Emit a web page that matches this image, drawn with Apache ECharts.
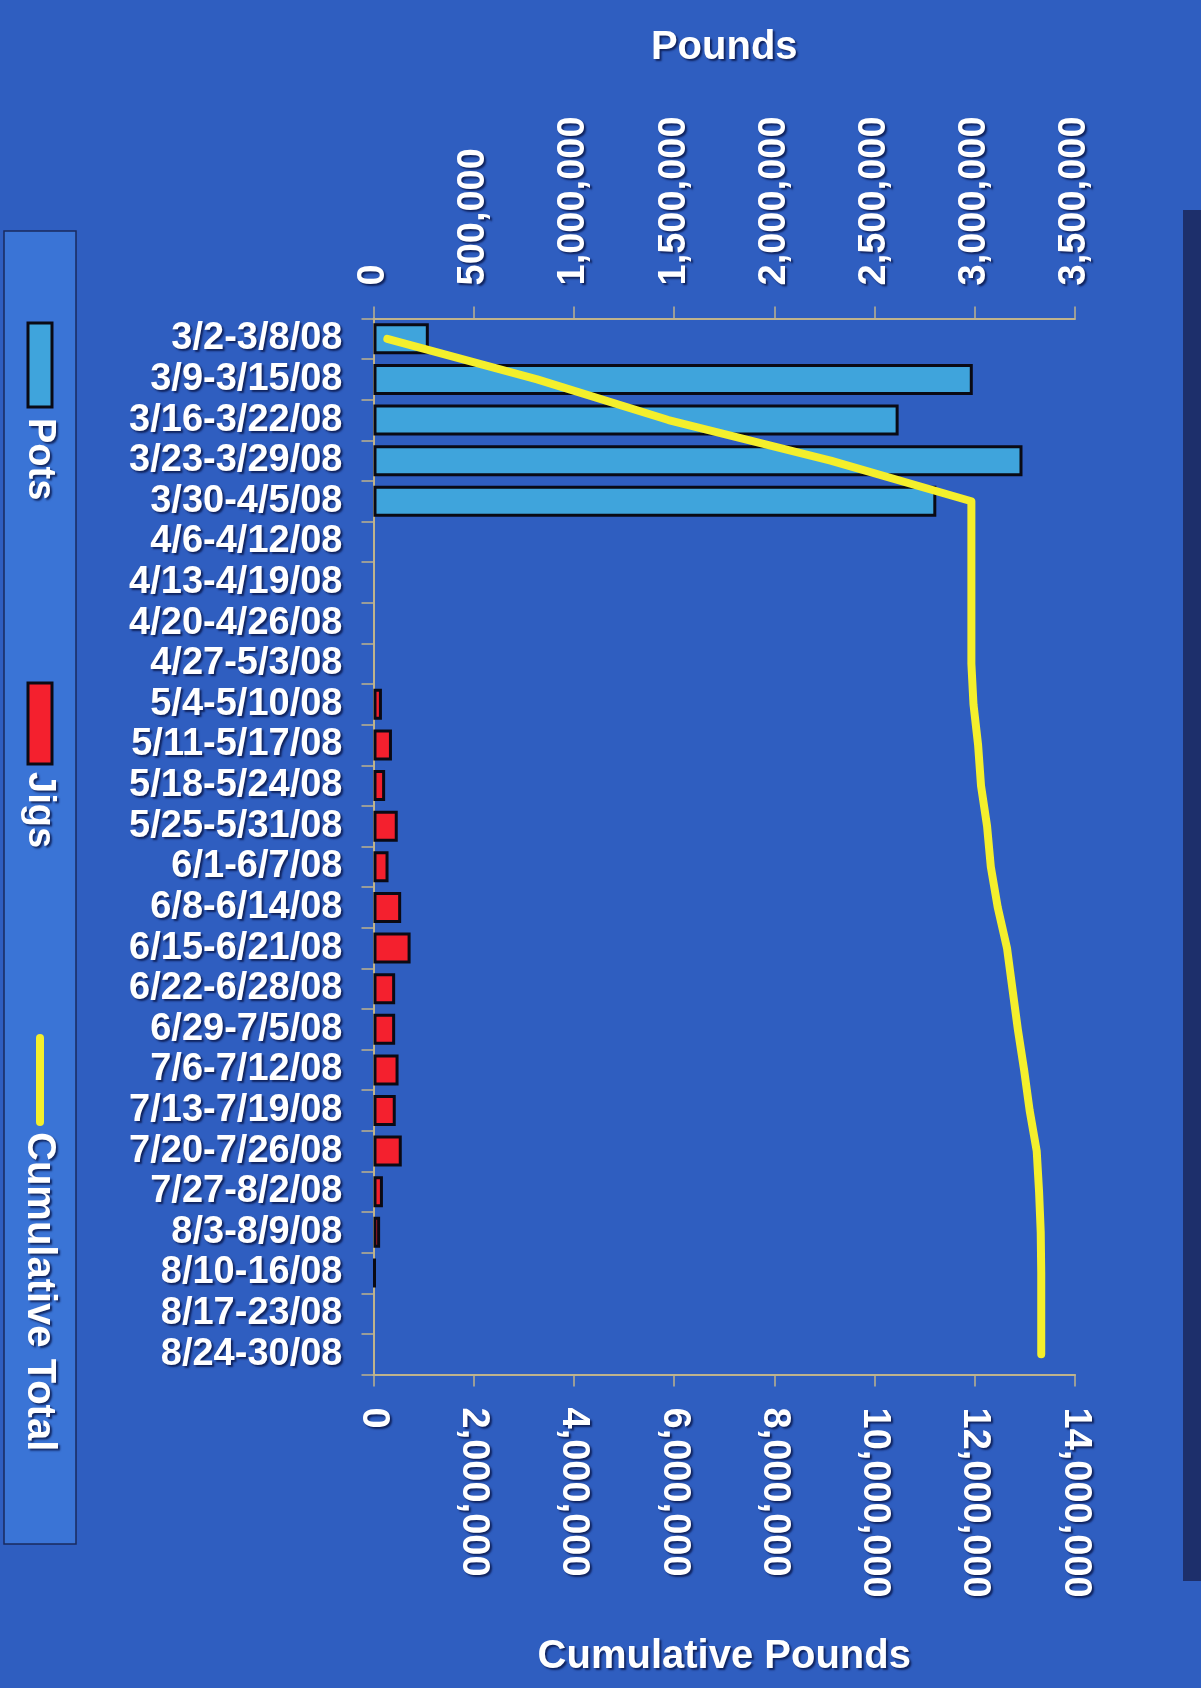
<!DOCTYPE html>
<html>
<head>
<meta charset="utf-8">
<script src="https://cdn.jsdelivr.net/npm/echarts@6/dist/echarts.min.js"></script>
<style>
  html, body { margin: 0; padding: 0; background: #2f5ec0; }
  #chart { width: 1201px; height: 1688px; }
</style>
</head>
<body>
<div id="chart"></div>
<script>
const categories = [
  '3/2-3/8/08', '3/9-3/15/08', '3/16-3/22/08', '3/23-3/29/08', '3/30-4/5/08',
  '4/6-4/12/08', '4/13-4/19/08', '4/20-4/26/08', '4/27-5/3/08', '5/4-5/10/08',
  '5/11-5/17/08', '5/18-5/24/08', '5/25-5/31/08', '6/1-6/7/08', '6/8-6/14/08',
  '6/15-6/21/08', '6/22-6/28/08', '6/29-7/5/08', '7/6-7/12/08', '7/13-7/19/08',
  '7/20-7/26/08', '7/27-8/2/08', '8/3-8/9/08', '8/10-16/08', '8/17-23/08', '8/24-30/08'
];
const potsPounds = [
  276000, 2990000, 2620000, 3238000, 2808000,
  null, null, null, null, null,
  null, null, null, null, null,
  null, null, null, null, null,
  null, null, null, null, null, null
];
const jigsPounds = [
  null, null, null, null, null,
  null, null, null, null, 42000,
  92000, 58000, 121000, 75000, 138000,
  185000, 108000, 108000, 125000, 111000,
  141000, 47000, 33000, 10000, null, null
];
const cumulativePounds = [
  276000, 3266000, 5886000, 9124000, 11932000,
  11932000, 11932000, 11932000, 11932000, 11974000,
  12066000, 12124000, 12245000, 12320000, 12458000,
  12643000, 12751000, 12859000, 12984000, 13095000,
  13236000, 13283000, 13316000, 13326000, 13326000, 13326000
];
const poundsTicks = { min: 0, max: 3500000, interval: 500000 };
const cumulativeTicks = { min: 0, max: 14000000, interval: 2000000 };

const FONT = '"Liberation Sans", Arial, sans-serif';
const shadow = { textShadowColor: 'rgba(5,15,60,0.75)', textShadowOffsetX: 2, textShadowOffsetY: 2, textShadowBlur: 2 };
const axisColor = '#bfb38c';
const fmt = v => Number(v).toLocaleString('en-US');

function valueAxis(pos, ticks, name, nameGap) {
  return {
    type: 'value', position: pos,
    min: ticks.min, max: ticks.max, interval: ticks.interval,
    name: name, nameLocation: 'middle', nameGap: nameGap,
    nameTextStyle: Object.assign({ color: '#ffffff', fontSize: 40, fontWeight: 'bold', fontFamily: FONT }, shadow),
    axisLine: { show: true, lineStyle: { color: axisColor, width: 2 } },
    axisTick: { show: true, length: 12, lineStyle: { color: axisColor, width: 1.5 } },
    splitLine: { show: false },
    axisLabel: Object.assign({
      rotate: -90, margin: 33, color: '#ffffff', fontSize: 38, fontWeight: 'bold',
      fontFamily: FONT, formatter: fmt
    }, shadow)
  };
}

const chart = echarts.init(document.getElementById('chart'), null, { renderer: 'canvas' });
chart.setOption({
  backgroundColor: '#2f5ec0',
  animation: false,
  grid: { left: 373.5, right: 126, top: 318.5, bottom: 313.5, containLabel: false },
  xAxis: [
    valueAxis('top', poundsTicks, 'Pounds', 251),
    valueAxis('bottom', cumulativeTicks, 'Cumulative Pounds', 262)
  ],
  yAxis: {
    type: 'category', data: categories, inverse: true,
    axisLine: { show: true, lineStyle: { color: axisColor, width: 2 } },
    axisTick: { show: true, length: 12, lineStyle: { color: axisColor, width: 1.5 } },
    axisLabel: Object.assign({
      interval: 0, margin: 31, color: '#ffffff', fontSize: 38, fontWeight: 'bold', fontFamily: FONT
    }, shadow)
  },
  series: [
    {
      name: 'Pots', type: 'bar', xAxisIndex: 0, data: potsPounds,
      barWidth: 31, barGap: '-100%',
      itemStyle: { color: '#3fa4dc', borderColor: '#0a0a14', borderWidth: 3 }
    },
    {
      name: 'Jigs', type: 'bar', xAxisIndex: 0, data: jigsPounds,
      barWidth: 31, barGap: '-100%',
      itemStyle: { color: '#f4202e', borderColor: '#0a0a14', borderWidth: 3 }
    },
    {
      name: 'Cumulative Total', type: 'line', xAxisIndex: 1, data: cumulativePounds,
      symbol: 'none', z: 5,
      lineStyle: { color: '#f4ef2c', width: 8, cap: 'round', join: 'round' }
    }
  ],
  graphic: [
    { type: 'rect', shape: { x: 1183, y: 210, width: 18, height: 1371 }, style: { fill: '#1d2f6b' }, silent: true },
    { type: 'rect', shape: { x: 4, y: 231, width: 72, height: 1313 },
      style: { fill: '#3a74d6', stroke: '#1a2a5e', lineWidth: 1.5 }, silent: true },
    { type: 'rect', shape: { x: 28, y: 323, width: 24, height: 84 },
      style: { fill: '#3fa4dc', stroke: '#0a0a14', lineWidth: 3 }, silent: true },
    { type: 'text', x: 39, y: 418, rotation: -Math.PI / 2,
      style: { text: 'Pots', fill: '#ffffff', font: 'bold 38px ' + FONT, textAlign: 'left', textVerticalAlign: 'middle', textShadowColor: 'rgba(5,15,60,0.75)', textShadowOffsetX: 2, textShadowOffsetY: 2, textShadowBlur: 2 } },
    { type: 'rect', shape: { x: 28, y: 683, width: 24, height: 81 },
      style: { fill: '#f4202e', stroke: '#0a0a14', lineWidth: 3 }, silent: true },
    { type: 'text', x: 39, y: 772, rotation: -Math.PI / 2,
      style: { text: 'Jigs', fill: '#ffffff', font: 'bold 38px ' + FONT, textAlign: 'left', textVerticalAlign: 'middle', textShadowColor: 'rgba(5,15,60,0.75)', textShadowOffsetX: 2, textShadowOffsetY: 2, textShadowBlur: 2 } },
    { type: 'line', shape: { x1: 40, y1: 1038, x2: 40, y2: 1122 },
      style: { stroke: '#f4ef2c', lineWidth: 8, lineCap: 'round' }, silent: true },
    { type: 'text', x: 39, y: 1132, rotation: -Math.PI / 2,
      style: { text: 'Cumulative Total', fill: '#ffffff', font: 'bold 40px ' + FONT, textAlign: 'left', textVerticalAlign: 'middle', textShadowColor: 'rgba(5,15,60,0.75)', textShadowOffsetX: 2, textShadowOffsetY: 2, textShadowBlur: 2 } }
  ]
});
</script>
</body>
</html>
